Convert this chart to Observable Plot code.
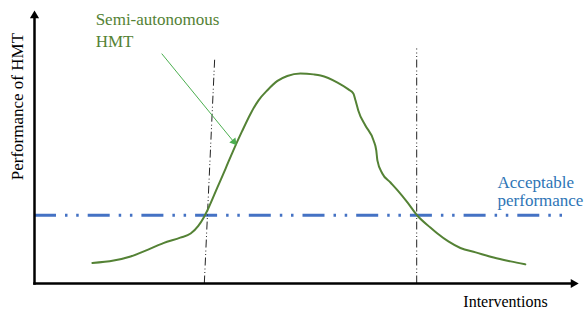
<!DOCTYPE html>
<html><head><meta charset="utf-8">
<script src="https://cdn.jsdelivr.net/npm/d3@7"></script>
<script src="https://cdn.jsdelivr.net/npm/@observablehq/plot@0.6"></script>
<style>html,body{margin:0;padding:0;background:#fff}svg text{font-family:'Liberation Serif','Times New Roman',serif !important}</style>
</head><body><div id="chart"></div>
<script>
// Performance of the semi-autonomous HMT vs. interventions (arbitrary 0-100 units)
const curveX = [10.6,14.5,17.6,20.7,23.6,26.7,28.6,30.0,31.0,31.9,33.5,35.0,36.4,38.0,39.6,41.0,42.7,44.5,46.3,48.7,51.1,52.4,55.5,57.5,58.4,58.8,59.0,59.3,60.6,62.1,62.6,62.8,63.7,65.2,66.5,68.3,70.1,72.5,73.8,75.8,78.0,80.8,84.1,87.2,89.9];
const curveY = [7.5,8.4,9.9,12.3,14.8,16.8,18.3,21.1,24.2,27.8,35.2,42.1,48.7,55.7,62.3,67.0,70.9,74.2,76.0,76.9,76.6,76.2,73.6,71.1,69.6,67.0,65.6,63.4,57.9,52.4,48.7,45.1,40.3,37.0,34.1,29.7,24.9,20.5,18.3,15.4,13.0,11.4,9.5,8.1,7.0];

// acceptable performance level and its extent
const acceptableLevel = 25;
const acceptableFrom = 0, acceptableTo = 97.3;

// the two threshold lines (bottom x, top x, top y)
const thresholdBottomX = [31.1, 70.0];
const thresholdTopX = [33.0, 70.0];
const thresholdTopY = [82.4, 86.1];

// annotation arrow (start, head)
const pointerFrom = [23.3, 84.2];
const pointerTo = [36.5, 51.9];

// axis extents (head positions)
const yAxisTop = 98.1, xAxisEnd = 98.7;

// labels
const seriesLabel = "Semi-autonomous\nHMT";
const levelLabel = "Acceptable\nperformance";
const xLabel = "Interventions";
const yLabel = "Performance of HMT";

const curve = curveX.map((x, i) => ({x, y: curveY[i]}));
const thresholds = thresholdBottomX.map((x, i) => ({x1: x, y1: 0, x2: thresholdTopX[i], y2: thresholdTopY[i]}));
const axes = [{x1: 0, y1: 0, x2: 0, y2: yAxisTop}, {x1: 0, y1: 0, x2: xAxisEnd, y2: 0}];
const heads = [{x: 0, y: yAxisTop, r: 0}, {x: xAxisEnd, y: 0, r: 90}];

const serif = "'Liberation Serif', 'Times New Roman', serif";
const green = "#548235", blue = "#4472C4", textBlue = "#2E75B6";

const chart = Plot.plot({
  width: 585, height: 312,
  x: {domain: [0, 100], range: [34, 580]},
  y: {domain: [0, 100], range: [283, 10]},
  axis: null,
  style: {fontFamily: serif, background: "#fff", overflow: "visible"},
  marks: [
    Plot.ruleY([acceptableLevel], {x1: acceptableFrom, x2: acceptableTo, stroke: blue, strokeWidth: 3, strokeDasharray: "22,9,2.5,8.7,2.5,9"}),
    Plot.link(thresholds, {x1: "x1", y1: "y1", x2: "x2", y2: "y2", stroke: "#222", strokeWidth: 1, strokeDasharray: "8,2.5,1,2.5,1,3"}),
    Plot.line(curve, {x: "x", y: "y", stroke: green, strokeWidth: 2, curve: "monotone-x"}),
    Plot.link([{x1: pointerFrom[0], y1: pointerFrom[1], x2: pointerTo[0], y2: pointerTo[1]}], {x1: "x1", y1: "y1", x2: "x2", y2: "y2", stroke: "#4CAF50", strokeWidth: 1}),
    Plot.dot([{x: pointerTo[0], y: pointerTo[1]}], {x: "x", y: "y", symbol: "triangle", r: 2.9, fill: "#4CAF50", stroke: "none", rotate: 141}),
    Plot.link(axes, {x1: "x1", y1: "y1", x2: "x2", y2: "y2", stroke: "#000", strokeWidth: 2.5, strokeLinecap: "square"}),
    Plot.dot(heads, {x: "x", y: "y", symbol: "triangle", r: 3.4, fill: "#000", stroke: "none", rotate: "r"}),
    Plot.text([seriesLabel], {x: 11.2, y: 100.4, text: d => d, textAnchor: "start", lineAnchor: "top", lineHeight: 1.29, fontSize: 17, fontFamily: serif, fill: green}),
    Plot.text([levelLabel], {x: 84.8, y: 39.6, text: d => d, textAnchor: "start", lineAnchor: "top", lineHeight: 1.06, fontSize: 17, fontFamily: serif, fill: textBlue}),
    Plot.text([xLabel], {x: 94.0, y: -6.9, text: d => d, textAnchor: "end", fontSize: 16, fontFamily: serif, fill: "#000"}),
    Plot.text([yLabel], {x: -3.1, y: 64.8, text: d => d, rotate: -90, textAnchor: "middle", fontSize: 17, fontFamily: serif, fill: "#000"})
  ]
});
document.getElementById("chart").appendChild(chart);
</script>
</body></html>
